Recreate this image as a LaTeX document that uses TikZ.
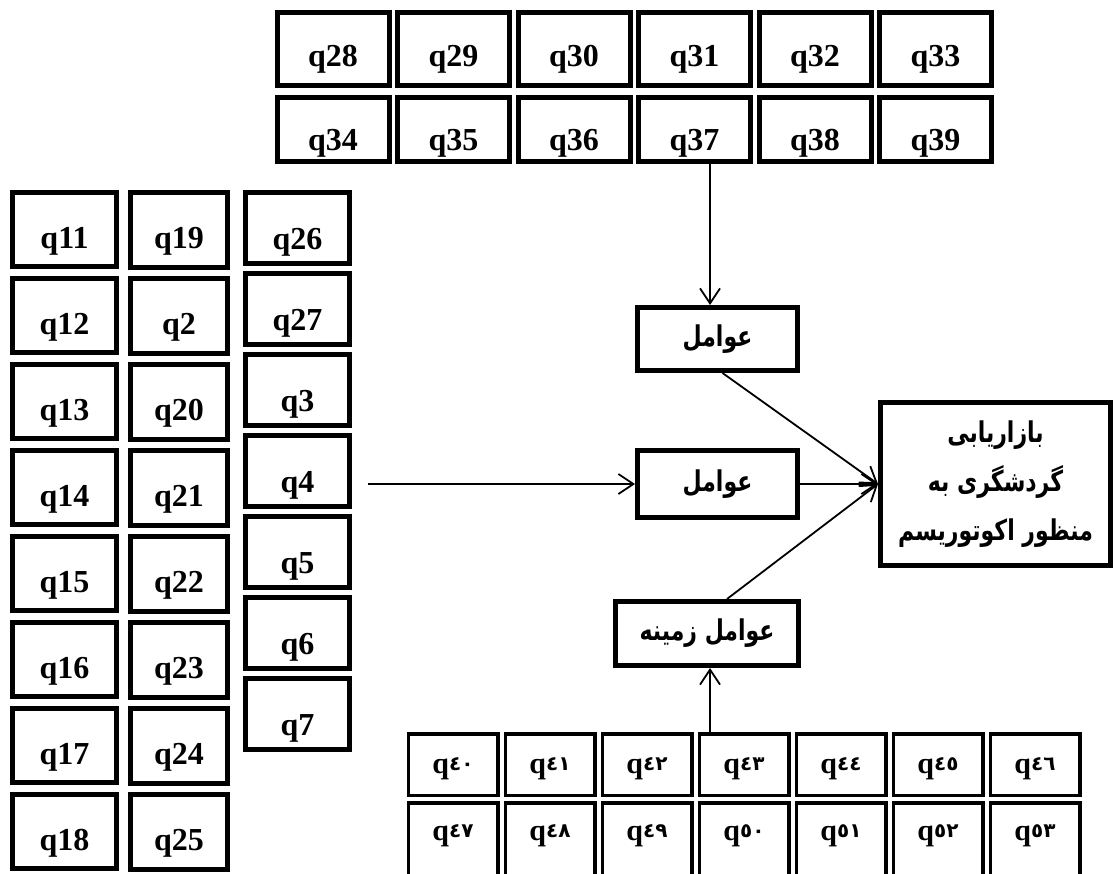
\documentclass[tikz,border=0pt]{standalone}
\usepackage{fontspec}
\setmainfont{Liberation Serif}
\newfontfamily\farsi[Script=Arabic]{DejaVu Sans}
\newfontfamily\digs{DejaVu Sans}
\TeXXeTstate=1
\usetikzlibrary{positioning,arrows.meta,calc}
\newcommand\qf{\fontsize{32}{32}\selectfont\bfseries}
\newcommand\fa[1]{\scalebox{1}[1.3]{\farsi\bfseries\beginR #1\endR}}
\newcommand\qa[1]{{\fontsize{30}{30}\selectfont\bfseries q}\raisebox{3pt}{\digs\bfseries\fontsize{20}{20}\selectfont #1}}

\begin{document}
\begin{tikzpicture}[x=1pt,y=-1pt,>={Straight Barb[length=15pt,width=20pt]}]
\tikzstyle{box}=[draw,line width=5pt,inner sep=0pt,font=\qf]
\tikzstyle{T}=[box,minimum width=112pt,minimum height=73pt,text height=54pt,text depth=19pt]
\tikzstyle{U}=[box,minimum width=112pt,minimum height=64pt,text height=52.5pt,text depth=11.5pt]
\tikzstyle{A}=[box,minimum width=104pt,minimum height=74pt,text height=55.5pt,text depth=18.5pt]
\tikzstyle{B}=[box,minimum width=97pt,minimum height=75pt,text height=55.5pt,text depth=19.5pt]
\tikzstyle{C}=[box,minimum width=104pt,minimum height=71pt,text height=57pt,text depth=14pt]
\tikzstyle{D}=[box,line width=3.5pt,minimum width=89.5pt,minimum height=61.5pt,text height=39.25pt,text depth=22.25pt,font=]
\tikzstyle{E}=[D,minimum height=80pt,text height=37.25pt,text depth=42.75pt]
\tikzstyle{F}=[draw,line width=5pt,inner sep=0pt,font=\fontsize{22}{49}\selectfont,align=center]
\tikzstyle{link}=[->,line width=1.8pt]
\useasboundingbox (0,0) rectangle (1116,873);
% top block
\node[T] (t28) at (333,49) {q28}; \node[T,right=3.5pt of t28] (t29) {q29}; \node[T,right=3.5pt of t29] (t30) {q30};
\node[T,right=3.5pt of t30] (t31) {q31}; \node[T,right=3.5pt of t31] (t32) {q32}; \node[T,right=3.5pt of t32] (t33) {q33};
\node[U] (t34) at (333,129.5) {q34}; \node[U,right=3.5pt of t34] (t35) {q35}; \node[U,right=3.5pt of t35] (t36) {q36};
\node[U,right=3.5pt of t36] (t37) {q37}; \node[U,right=3.5pt of t37] (t38) {q38}; \node[U,right=3.5pt of t38] (t39) {q39};
% left block
\node[A] (l11) at (64.5,229.5) {q11}; \node[A,below=7pt of l11] (l12) {q12}; \node[A,below=7pt of l12] (l13) {q13};
\node[A,below=7pt of l13] (l14) {q14}; \node[A,below=7pt of l14] (l15) {q15}; \node[A,below=7pt of l15] (l16) {q16};
\node[A,below=7pt of l16] (l17) {q17}; \node[A,below=7pt of l17] (l18) {q18};
\node[B] (l19) at (179,230) {q19}; \node[B,below=6pt of l19] (l2) {q2}; \node[B,below=6pt of l2] (l20) {q20};
\node[B,below=6pt of l20] (l21) {q21}; \node[B,below=6pt of l21] (l22) {q22}; \node[B,below=6pt of l22] (l23) {q23};
\node[B,below=6pt of l23] (l24) {q24}; \node[B,below=6pt of l24] (l25) {q25};
\node[C] (l26) at (297.5,228) {q26}; \node[C,below=5pt of l26] (l27) {q27}; \node[C,below=5pt of l27] (l3) {q3};
\node[C,below=5pt of l3] (l4) {q4}; \node[C,below=5pt of l4] (l5) {q5}; \node[C,below=5pt of l5] (l6) {q6};
\node[C,below=5pt of l6] (l7) {q7};
% bottom block
\node[D] (b40) at (453,764.5) {\qa{٤٠}}; \node[D,right=4pt of b40] (b41) {\qa{٤١}}; \node[D,right=4pt of b41] (b42) {\qa{٤٢}};
\node[D,right=4pt of b42] (b43) {\qa{٤٣}}; \node[D,right=4pt of b43] (b44) {\qa{٤٤}}; \node[D,right=4pt of b44] (b45) {\qa{٤٥}};
\node[D,right=4pt of b45] (b46) {\qa{٤٦}};
\node[E] (b47) at (453,842.75) {\qa{٤٧}}; \node[E,right=4pt of b47] (b48) {\qa{٤٨}}; \node[E,right=4pt of b48] (b49) {\qa{٤٩}};
\node[E,right=4pt of b49] (b50) {\qa{٥٠}}; \node[E,right=4pt of b50] (b51) {\qa{٥١}}; \node[E,right=4pt of b51] (b52) {\qa{٥٢}};
\node[E,right=4pt of b52] (b53) {\qa{٥٣}};
% factors and target
\node[F,minimum width=160pt,minimum height=63pt] (f1) at (717.5,339) {\fa{عوامل}};
\node[F,minimum width=160pt,minimum height=67pt] (f2) at (717.5,484) {\fa{عوامل}};
\node[F,minimum width=183pt,minimum height=64pt] (f3) at (707,633.5) {\fa{عوامل زمینه}};
\node[F,minimum width=230pt,minimum height=163pt] (rb) at (995.5,484) {\fa{بازاریابی}\\\fa{گردشگری به}\\\fa{منظور اکوتوریسم}};
% links
\coordinate (a1) at ([xshift=-7.5pt]f1.north);
\coordinate (a3) at ([xshift=3pt]f3.south);
\coordinate (src) at (368,484);
\draw[link] (t37.south -| a1) -- (a1);
\draw[link] (src) -- (f2.west);
\draw[link] (b43.north -| a3) -- (a3);
\draw[link] ([xshift=5pt]f1.south) -- (rb.west);
\draw[link] (f2.east) -- (rb.west);
\draw[link] ([xshift=20pt]f3.north) -- (rb.west);
\end{tikzpicture}
\end{document}
